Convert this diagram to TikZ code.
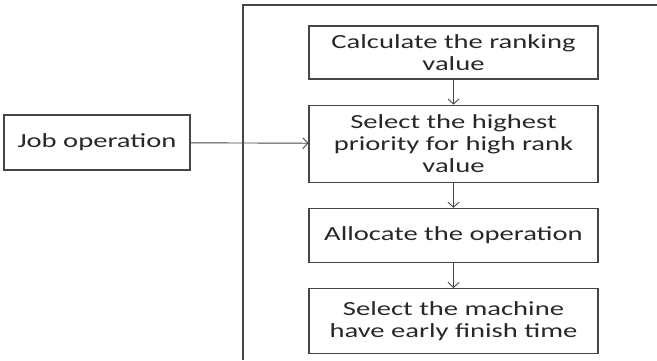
\documentclass[tikz,border=0pt]{standalone}
\usepackage{fontspec}
\setmainfont{Carlito}[FakeStretch=1.43]
\usepackage{tikz}
\usetikzlibrary{arrows.meta,positioning}
\definecolor{linegray}{RGB}{70,70,70}
\definecolor{textgray}{RGB}{40,40,40}

\begin{document}
\begin{tikzpicture}[
  x=1pt, y=-1pt,
  node distance = 25pt,
  box/.style = {rectangle, draw=linegray, line width=1.2pt, fill=white,
                minimum width=289pt, align=center, text=textgray,
                font=\fontsize{20}{22}\selectfont, inner sep=2pt},
  arrow/.style = {-{Straight Barb[length=5pt,width=11pt]}, line width=0.9pt, color=linegray},
]
\useasboundingbox (0,0) rectangle (657,360);

% outer frame (cut off at the right and bottom)
\draw[linegray, line width=1.3pt] (243,360) -- (243,5) -- (657,5);

\node[box, minimum height=53pt] (calc) at (453.5,52.5) {Calculate the ranking\\value};
\node[box, minimum height=77pt, below=of calc] (select) {Select the highest\\priority for high rank\\value};
\node[box, minimum height=54pt, below=of select] (alloc) {Allocate the operation};
\node[box, minimum height=65pt, below=of alloc] (machine) {Select the machine\\have early finish time};

\node[box, minimum width=186pt, minimum height=55pt] (job) at (97,142.5) {Job operation};

\draw[arrow] (job) -- (select);
\draw[arrow] (calc) -- (select);
\draw[arrow] (select) -- (alloc);
\draw[arrow] (alloc) -- (machine);
\end{tikzpicture}
\end{document}
